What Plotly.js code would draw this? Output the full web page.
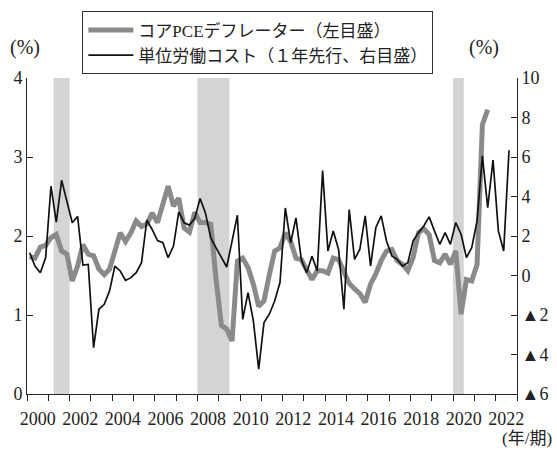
<!DOCTYPE html>
<html>
<head>
<meta charset="utf-8">
<script src="https://cdn.plot.ly/plotly-3.0.1.min.js"></script>
<style>
html,body{margin:0;padding:0;background:#fff;}
#chart{width:557px;height:451px;}
</style>
</head>
<body>
<div id="chart"></div>
<script>
// Quarterly data, 2000Q1 onward
const startYear = 2000;
// Core PCE deflator (% y/y, left scale), 2000Q1 - 2021Q3
const pceCore = [
  1.74,1.72,1.86,1.88, 1.98,2.02,1.81,1.77, 1.43,1.62,1.89,1.77, 1.75,1.58,1.51,1.58,
  1.81,2.04,1.93,2.04, 2.19,2.12,2.15,2.29, 2.17,2.40,2.63,2.38, 2.48,2.10,2.05,2.30,
  2.17,2.17,2.15,1.45, 0.87,0.82,0.67,1.68, 1.72,1.60,1.39,1.11, 1.18,1.51,1.81,1.85,
  2.04,1.93,1.72,1.70, 1.58,1.45,1.56,1.56, 1.53,1.72,1.70,1.53, 1.40,1.33,1.27,1.16,
  1.39,1.52,1.69,1.81, 1.83,1.69,1.64,1.56, 1.73,2.04,2.09,2.02, 1.69,1.66,1.77,1.64,
  1.81,1.01,1.45,1.43, 1.64,3.41,3.60
];
// Unit labor cost (% y/y, 1-year lead, right scale), 2000Q1 - 2022Q3
const ulcLead = [
  1.15,0.48,0.14,0.90, 4.52,2.70,4.82,3.75, 2.67,2.99,0.53,0.56, -3.65,-1.71,-1.46,-0.78,
  0.48,0.23,-0.25,-0.11, 0.14,0.65,2.80,2.33, 1.77,1.66,0.90,1.49, 3.22,2.67,2.55,2.90,
  3.90,3.17,1.91,1.40, 0.90,0.43,1.74,3.05, -2.22,-0.87,-2.30,-4.74, -2.38,-1.96,-1.29,-0.36,
  3.42,1.66,2.92,0.81, 0.14,0.98,0.23,5.31, 1.24,2.25,1.32,-1.71, 3.34,0.82,1.33,3.02,
  0.48,2.43,3.02,1.75, 0.99,0.82,0.48,0.65, 1.75,2.17,2.51,2.97, 2.26,1.58,2.17,1.58,
  2.68,2.09,0.91,1.41, 2.76,6.06,3.44,5.84, 2.26,1.24,6.34
];
// Recession periods (NBER), in fractional years
const recStart = [2001.25, 2008.0, 2020.0];
const recEnd   = [2002.0, 2009.5, 2020.5];
// Axis ticks
const yearTicks = [2000,2002,2004,2006,2008,2010,2012,2014,2016,2018,2020,2022];
const rightVals = [-6,-4,-2,0,2,4,6,8,10];
const rightText = ['▲6','▲4','▲2','0','2','4','6','8','10'];
const legendNames = ['コアPCEデフレーター（左目盛）', '単位労働コスト（１年先行、右目盛）'];

const qx = (i) => startYear + i / 4 + 0.125;
const xp = pceCore.map((v, i) => qx(i));
const xu = ulcLead.map((v, i) => qx(i));

const serif = '"Liberation Serif", "Noto Sans CJK JP", serif';

const traces = [
  {x: xp, y: pceCore, type: 'scatter', mode: 'lines', name: legendNames[0],
   line: {color: '#8a8a8c', width: 5}, xaxis: 'x', yaxis: 'y'},
  {x: xu, y: ulcLead, type: 'scatter', mode: 'lines', name: legendNames[1],
   line: {color: '#111111', width: 1.7}, xaxis: 'x', yaxis: 'y2'}
];

const shapes = recStart.map((s, k) => ({
  type: 'rect', xref: 'x', yref: 'paper', x0: s, x1: recEnd[k], y0: 0, y1: 1,
  fillcolor: '#d3d4d6', line: {width: 0}, layer: 'below'
}));

const layout = {
  width: 557, height: 451,
  margin: {l: 27, r: 40, t: 77, b: 57},
  paper_bgcolor: '#ffffff', plot_bgcolor: '#ffffff',
  font: {family: serif, size: 17, color: '#222'},
  showlegend: true,
  legend: {x: 0.113, y: 1.207, xanchor: 'left', yanchor: 'top',
    bordercolor: '#333', borderwidth: 1, bgcolor: '#fff',
    font: {family: serif, size: 17, color: '#222'}, itemwidth: 45, tracegroupgap: 0},
  xaxis: {range: [2000, 2023], showgrid: false, zeroline: false,
    tickmode: 'array', tickvals: yearTicks.map(y => y + 0.5), ticktext: yearTicks.map(String),
    ticks: '', ticklabelstandoff: 8, showline: true, linecolor: '#222', linewidth: 1,
    minor: {tickmode: 'linear', tick0: 2000, dtick: 1, ticks: 'outside', ticklen: 6, tickcolor: '#222', tickwidth: 1, showgrid: false},
    tickfont: {family: serif, size: 18, color: '#222'}, fixedrange: true},
  yaxis: {range: [0, 4], dtick: 1, tick0: 0, showgrid: false, zeroline: false,
    ticks: 'inside', ticklen: 6, tickcolor: '#222', showline: true, linecolor: '#222', linewidth: 1,
    tickfont: {family: serif, size: 18, color: '#222'}, fixedrange: true},
  yaxis2: {range: [-6, 10], overlaying: 'y', side: 'right', showgrid: false, zeroline: false,
    tickmode: 'array', tickvals: rightVals, ticktext: rightText,
    ticks: 'inside', ticklen: 6, tickcolor: '#222', showline: true, linecolor: '#222', linewidth: 1,
    tickfont: {family: serif, size: 18, color: '#222'}, fixedrange: true},
  shapes: shapes,
  annotations: [
    {text: '(%)', xref: 'paper', yref: 'paper', x: -0.005, y: 1.095, xanchor: 'center', yanchor: 'middle', showarrow: false, font: {family: serif, size: 20, color: '#222'}},
    {text: '(%)', xref: 'paper', yref: 'paper', x: 0.932, y: 1.095, xanchor: 'center', yanchor: 'middle', showarrow: false, font: {family: serif, size: 20, color: '#222'}},
    {text: '(年/期)', xref: 'paper', yref: 'paper', x: 1.02, y: -0.142, xanchor: 'center', yanchor: 'middle', showarrow: false, font: {family: serif, size: 17, color: '#222'}}
  ]
};

Plotly.newPlot('chart', traces, layout, {displayModeBar: false, staticPlot: true});
</script>
</body>
</html>
